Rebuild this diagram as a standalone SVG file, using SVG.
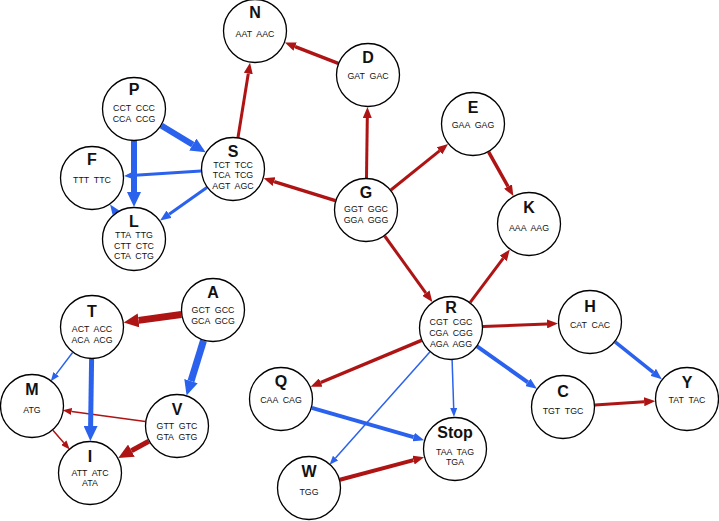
<svg xmlns="http://www.w3.org/2000/svg" width="719" height="521" viewBox="0 0 719 521">
<style>
.n circle{fill:#fff;stroke:#000;stroke-width:1.3}
.n text{font-family:"Liberation Sans",Arial,sans-serif;text-anchor:middle;fill:#111;white-space:pre}
.n .h{font-size:16px;font-weight:bold}
.n .c{font-size:8.8px}
.r{stroke:#ae1414;fill:none}
.b{stroke:#2a62ee;fill:none}
</style>
<defs>
<marker id="rs" markerUnits="userSpaceOnUse" viewBox="0 -3.5 9 7" markerWidth="9" markerHeight="7" refX="0" refY="0" orient="auto"><path d="M0,-3.5L9,0L0,3.5z" fill="#ae1414"/></marker>
<marker id="rm" markerUnits="userSpaceOnUse" viewBox="0 -4.5 11 9" markerWidth="11" markerHeight="9" refX="0" refY="0" orient="auto"><path d="M0,-4.5L11,0L0,4.5z" fill="#ae1414"/></marker>
<marker id="rl" markerUnits="userSpaceOnUse" viewBox="0 -7 15 14" markerWidth="15" markerHeight="14" refX="0" refY="0" orient="auto"><path d="M0,-7L15,0L0,7z" fill="#ae1414"/></marker>
<marker id="bs" markerUnits="userSpaceOnUse" viewBox="0 -3.5 9 7" markerWidth="9" markerHeight="7" refX="0" refY="0" orient="auto"><path d="M0,-3.5L9,0L0,3.5z" fill="#2a62ee"/></marker>
<marker id="bm" markerUnits="userSpaceOnUse" viewBox="0 -4.5 11 9" markerWidth="11" markerHeight="9" refX="0" refY="0" orient="auto"><path d="M0,-4.5L11,0L0,4.5z" fill="#2a62ee"/></marker>
<marker id="bl" markerUnits="userSpaceOnUse" viewBox="0 -7 15 14" markerWidth="15" markerHeight="14" refX="0" refY="0" orient="auto"><path d="M0,-7L15,0L0,7z" fill="#2a62ee"/></marker>
</defs>
<g id="connectors">
<line class="r" x1="238" y1="137.4" x2="248.3" y2="73.5" stroke-width="3" marker-end="url(#rm)"/>
<line class="r" x1="338.2" y1="63.4" x2="295.1" y2="46.6" stroke-width="3.5" marker-end="url(#rm)"/>
<line class="r" x1="366.5" y1="178" x2="367.3" y2="118" stroke-width="3" marker-end="url(#rm)"/>
<line class="r" x1="390.9" y1="190" x2="439.5" y2="150.9" stroke-width="3" marker-end="url(#rm)"/>
<line class="r" x1="488.6" y1="151.9" x2="508" y2="186.5" stroke-width="3.5" marker-end="url(#rm)"/>
<line class="r" x1="335.4" y1="200.6" x2="274.1" y2="181.6" stroke-width="3.5" marker-end="url(#rm)"/>
<line class="r" x1="384.7" y1="236" x2="425.9" y2="293.1" stroke-width="3" marker-end="url(#rm)"/>
<line class="r" x1="470.2" y1="302.4" x2="503.2" y2="258.4" stroke-width="3" marker-end="url(#rm)"/>
<line class="r" x1="483" y1="326.6" x2="547" y2="323.9" stroke-width="3" marker-end="url(#rm)"/>
<line class="r" x1="421.5" y1="340.3" x2="320.7" y2="382.5" stroke-width="3.5" marker-end="url(#rm)"/>
<line class="r" x1="594.9" y1="404.9" x2="644.1" y2="401.8" stroke-width="3" marker-end="url(#rm)"/>
<line class="r" x1="339.9" y1="479.7" x2="413.5" y2="460.1" stroke-width="4" marker-end="url(#rm)"/>
<line class="r" x1="181.3" y1="314.5" x2="138.6" y2="320.4" stroke-width="7" marker-end="url(#rl)"/>
<line class="r" x1="145.3" y1="421.6" x2="71.6" y2="411.5" stroke-width="1.5" marker-end="url(#rs)"/>
<line class="r" x1="52.9" y1="430.2" x2="63.8" y2="442.7" stroke-width="1.5" marker-end="url(#rs)"/>
<line class="r" x1="148.8" y1="441.2" x2="131.4" y2="450.7" stroke-width="5" marker-end="url(#rl)"/>
<line class="b" x1="161.4" y1="125.6" x2="192.8" y2="144.6" stroke-width="6" marker-end="url(#bl)"/>
<line class="b" x1="134" y1="141" x2="134" y2="192" stroke-width="6" marker-end="url(#bl)"/>
<line class="b" x1="201.1" y1="171" x2="134.9" y2="175.3" stroke-width="3" marker-end="url(#bm)"/>
<line class="b" x1="206.9" y1="187.5" x2="169.1" y2="214.2" stroke-width="3" marker-end="url(#bm)"/>
<path d="M110.1,204.4L119.2,210.4L112.6,215z" fill="#2a62ee"/>
<line class="b" x1="203.5" y1="340.6" x2="191" y2="381.1" stroke-width="7" marker-end="url(#bl)"/>
<line class="b" x1="72.6" y1="352.5" x2="56.2" y2="374.1" stroke-width="1.5" marker-end="url(#bs)"/>
<line class="b" x1="91.6" y1="359" x2="90.6" y2="426" stroke-width="5" marker-end="url(#bl)"/>
<line class="b" x1="452.1" y1="360" x2="453.7" y2="408" stroke-width="1.5" marker-end="url(#bs)"/>
<line class="b" x1="429.8" y1="351.9" x2="335.5" y2="458.1" stroke-width="1.5" marker-end="url(#bs)"/>
<line class="b" x1="477.1" y1="346.4" x2="527.9" y2="382.3" stroke-width="4" marker-end="url(#bm)"/>
<line class="b" x1="311.8" y1="407.8" x2="413.6" y2="437.1" stroke-width="4" marker-end="url(#bm)"/>
<line class="b" x1="615.1" y1="341.9" x2="653.2" y2="372.3" stroke-width="3.5" marker-end="url(#bm)"/>
</g>
<g id="N" class="n"><circle cx="255" cy="31" r="31.5"/><text class="h" x="255" y="18">N</text><text class="c" x="255" y="37">AAT  AAC</text></g>
<g id="D" class="n"><circle cx="368" cy="75" r="31.5"/><text class="h" x="368" y="63">D</text><text class="c" x="368" y="79">GAT  GAC</text></g>
<g id="P" class="n"><circle cx="134" cy="109" r="31.5"/><text class="h" x="134" y="95">P</text><text class="c" x="134" y="111">CCT  CCC</text><text class="c" x="134" y="121.5">CCA  CCG</text></g>
<g id="E" class="n"><circle cx="473" cy="124" r="31.5"/><text class="h" x="473" y="113">E</text><text class="c" x="473" y="128">GAA  GAG</text></g>
<g id="S" class="n"><circle cx="233" cy="169" r="31.5"/><text class="h" x="233" y="157">S</text><text class="c" x="233" y="167.5">TCT  TCC</text><text class="c" x="233" y="178">TCA  TCG</text><text class="c" x="233" y="188.5">AGT  AGC</text></g>
<g id="F" class="n"><circle cx="92" cy="178" r="31.5"/><text class="h" x="92" y="165">F</text><text class="c" x="92" y="182.5">TTT  TTC</text></g>
<g id="G" class="n"><circle cx="366" cy="210" r="31.5"/><text class="h" x="366" y="198">G</text><text class="c" x="366" y="212">GGT  GGC</text><text class="c" x="366" y="223">GGA  GGG</text></g>
<g id="K" class="n"><circle cx="529" cy="224" r="31.5"/><text class="h" x="529" y="213">K</text><text class="c" x="529" y="231">AAA  AAG</text></g>
<g id="L" class="n"><circle cx="134" cy="239" r="31.5"/><text class="h" x="134" y="227">L</text><text class="c" x="134" y="238">TTA  TTG</text><text class="c" x="134" y="249">CTT  CTC</text><text class="c" x="134" y="259">CTA  CTG</text></g>
<g id="A" class="n"><circle cx="213" cy="310" r="31.5"/><text class="h" x="213" y="298">A</text><text class="c" x="213" y="313">GCT  GCC</text><text class="c" x="213" y="324">GCA  GCG</text></g>
<g id="T" class="n"><circle cx="92" cy="327" r="31.5"/><text class="h" x="92" y="317">T</text><text class="c" x="92" y="332">ACT  ACC</text><text class="c" x="92" y="343">ACA  ACG</text></g>
<g id="R" class="n"><circle cx="451" cy="328" r="31.5"/><text class="h" x="451" y="313">R</text><text class="c" x="451" y="325">CGT  CGC</text><text class="c" x="451" y="336">CGA  CGG</text><text class="c" x="451" y="347">AGA  AGG</text></g>
<g id="H" class="n"><circle cx="590" cy="322" r="31.5"/><text class="h" x="590" y="312">H</text><text class="c" x="590" y="328">CAT  CAC</text></g>
<g id="M" class="n"><circle cx="32" cy="406" r="31.5"/><text class="h" x="32" y="395">M</text><text class="c" x="32" y="413">ATG</text></g>
<g id="V" class="n"><circle cx="177" cy="426" r="31.5"/><text class="h" x="177" y="415">V</text><text class="c" x="177" y="429">GTT  GTC</text><text class="c" x="177" y="440">GTA  GTG</text></g>
<g id="Q" class="n"><circle cx="281" cy="399" r="31.5"/><text class="h" x="281" y="387">Q</text><text class="c" x="281" y="403">CAA  CAG</text></g>
<g id="C" class="n"><circle cx="563" cy="407" r="31.5"/><text class="h" x="563" y="397">C</text><text class="c" x="563" y="414">TGT  TGC</text></g>
<g id="Y" class="n"><circle cx="687" cy="399" r="31.5"/><text class="h" x="687" y="388">Y</text><text class="c" x="687" y="403">TAT  TAC</text></g>
<g id="I" class="n"><circle cx="90" cy="473" r="31.5"/><text class="h" x="90" y="462">I</text><text class="c" x="90" y="476">ATT  ATC</text><text class="c" x="90" y="486">ATA</text></g>
<g id="Stop" class="n"><circle cx="455" cy="449" r="31.5"/><text class="h" x="455" y="438">Stop</text><text class="c" x="455" y="455">TAA  TAG</text><text class="c" x="455" y="465">TGA</text></g>
<g id="W" class="n"><circle cx="309" cy="488" r="31.5"/><text class="h" x="309" y="477">W</text><text class="c" x="309" y="495">TGG</text></g>
</svg>
